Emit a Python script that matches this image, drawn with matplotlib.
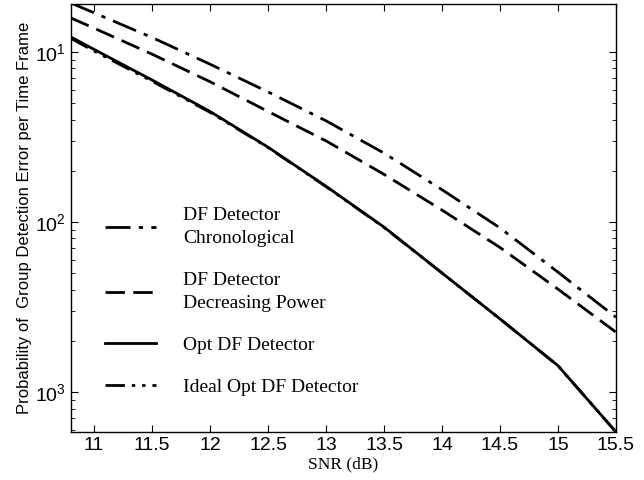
import numpy as np
import matplotlib
matplotlib.use("Agg")
import matplotlib.pyplot as plt
from matplotlib.ticker import FixedLocator, FixedFormatter, LogLocator, NullFormatter

plt.rcParams["mathtext.fontset"] = "custom"
plt.rcParams["mathtext.rm"] = "Liberation Sans"
plt.rcParams["mathtext.it"] = "Liberation Sans"
plt.rcParams["mathtext.bf"] = "Liberation Sans"

snr = [10.8, 11.0, 11.5, 12.0, 12.5, 13.0, 13.5, 14.0, 14.5, 15.0, 15.5]
log_chrono = [-0.712, -0.770, -0.915, -1.072, -1.235, -1.405, -1.595, -1.810, -2.035, -2.295, -2.560]
log_decr = [-0.800, -0.860, -1.013, -1.175, -1.350, -1.523, -1.720, -1.930, -2.150, -2.395, -2.648]
log_opt = [-0.912, -0.985, -1.165, -1.350, -1.560, -1.790, -2.030, -2.300, -2.570, -2.845, -3.235]
log_ideal = [-0.920, -0.995, -1.172, -1.355, -1.562, -1.792, -2.032, -2.300, -2.570, -2.845, -3.235]

labels = ["DF Detector\nChronological", "DF Detector\nDecreasing Power",
          "Opt DF Detector", "Ideal Opt DF Detector"]
xticks = [11, 11.5, 12, 12.5, 13, 13.5, 14, 14.5, 15, 15.5]
xticklabels = ["11", "11.5", "12", "12.5", "13", "13.5", "14", "14.5", "15", "15.5"]
yticks = [1e-1, 1e-2, 1e-3]
yticklabels = [r"$10^{1}$", r"$10^{2}$", r"$10^{3}$"]

fig = plt.figure(figsize=(6.44, 4.80), dpi=100)
ax = fig.add_axes([0.110, 0.100, 0.8465, 0.8917])

x = np.array(snr)
lw = 2.0
ax.plot(x, 10 ** np.array(log_chrono), color="black", lw=lw, dashes=(9, 3, 1.5, 3), label=labels[0])
ax.plot(x, 10 ** np.array(log_decr), color="black", lw=lw, dashes=(7, 3), label=labels[1])
ax.plot(x, 10 ** np.array(log_opt), color="black", lw=lw, ls="-", label=labels[2])
ax.plot(x, 10 ** np.array(log_ideal), color="black", lw=lw, dashes=(7, 2.5, 1.2, 2.5, 1.2, 2.5), label=labels[3])

ax.set_yscale("log")
ax.set_xlim(10.8, 15.5)
ax.set_ylim(10 ** -3.235, 10 ** -0.718)

ax.xaxis.set_major_locator(FixedLocator(xticks))
ax.xaxis.set_major_formatter(FixedFormatter(xticklabels))
ax.yaxis.set_major_locator(FixedLocator(yticks))
ax.yaxis.set_major_formatter(FixedFormatter(yticklabels))
ax.yaxis.set_minor_locator(LogLocator(base=10, subs=np.arange(2, 10)))
ax.yaxis.set_minor_formatter(NullFormatter())

ax.tick_params(which="both", direction="in", top=True, right=True)
ax.tick_params(which="major", length=5, width=0.8, labelsize=14)
ax.tick_params(which="minor", length=3, width=0.6)
for lab in ax.get_xticklabels() + ax.get_yticklabels():
    lab.set_family("Liberation Sans")

for s in ax.spines.values():
    s.set_linewidth(1.0)

ax.set_xlabel("SNR (dB)", family="Liberation Serif", fontsize=12.5, labelpad=2)
ax.set_ylabel("Probability of  Group Detection Error per Time Frame",
              family="Liberation Sans", fontsize=12, labelpad=2)

leg = ax.legend(loc="upper left", bbox_to_anchor=(0.063, 0.526), frameon=False,
                prop={"family": "Liberation Serif", "size": 14},
                handlelength=2.6, handletextpad=1.4, labelspacing=1.25,
                borderpad=0, borderaxespad=0)
for t in leg.get_texts():
    t.set_linespacing(1.5)

fig.savefig("out.png", dpi=100)
